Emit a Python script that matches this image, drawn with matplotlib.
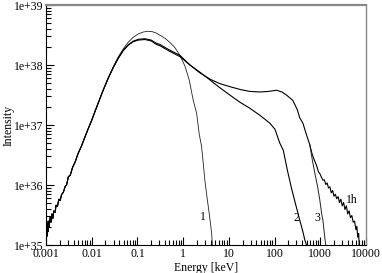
import numpy as np
import matplotlib
matplotlib.use("Agg")
import matplotlib.pyplot as plt
from matplotlib.ticker import FixedLocator, FixedFormatter, LogLocator, NullFormatter

plt.rcParams['font.family'] = ['Liberation Serif', 'DejaVu Serif']

# rising part shared by all spectra (keV, intensity)
rise_e = [0.00100, 0.00102, 0.00105, 0.00107, 0.00110, 0.00112, 0.00117, 0.00123,
          0.00129, 0.00135, 0.00141, 0.00148, 0.00158, 0.00166, 0.00178, 0.00191,
          0.00204, 0.00219, 0.00240, 0.00263, 0.00282, 0.00309, 0.00339, 0.0038,
          0.00437, 0.0050, 0.0060, 0.0071, 0.0083, 0.0100, 0.0120, 0.0141, 0.0178, 0.0229]
rise_i = [1.2e35, 2.0e35, 1.4e35, 2.3e35, 1.66e35, 2.5e35, 2.0e35, 2.9e35,
          2.4e35, 3.3e35, 2.75e35, 3.7e35, 3.5e35, 4.6e35, 4.4e35, 5.8e35,
          5.5e35, 6.9e35, 7.6e35, 9.5e35, 1.0e36, 1.38e36, 1.45e36, 1.95e36,
          2.45e36, 3.3e36, 4.5e36, 6.3e36, 8.5e36, 1.2e37, 1.74e37, 2.4e37, 3.8e37, 6.0e37]

# spectrum 1 (narrow, thin line)
e1 = [0.0302, 0.038, 0.049, 0.063, 0.081, 0.105, 0.135, 0.17, 0.21, 0.26, 0.32,
      0.41, 0.52, 0.66, 0.85, 1.10, 1.36, 1.66, 1.97, 2.25, 2.53, 2.99, 3.35, 3.71, 4.19, 4.36]
i1 = [9.6e37, 1.36e38, 1.86e38, 2.4e38, 2.9e38, 3.3e38, 3.55e38, 3.65e38, 3.6e38, 3.4e38, 3.1e38,
      2.75e38, 2.35e38, 1.95e38, 1.45e38, 9.5e37, 5.6e37, 2.6e37, 1.57e37, 7.0e36,
      4.4e36, 1.2e36, 6.0e35, 3.4e35, 1.6e35, 1.0e35]

# spectrum 2
e2 = [0.0302, 0.038, 0.049, 0.063, 0.081, 0.105, 0.145, 0.20, 0.26, 0.31, 0.50,
      0.85, 1.41, 2.32, 3.9, 6.3, 10.5, 17.4, 28.8, 47.9, 79, 102, 130, 155, 190,
      234, 288, 355, 417, 460, 500]
i2 = [9.3e37, 1.29e38, 1.74e38, 2.14e38, 2.45e38, 2.6e38, 2.66e38, 2.52e38, 2.2e38, 2.1e38, 1.7e38,
      1.38e38, 1.0e38, 7.6e37, 5.6e37, 4.2e37, 3.16e37, 2.4e37, 1.9e37, 1.45e37, 1.07e37,
      8.5e36, 5.0e36, 3.8e36, 1.78e36, 8.9e35, 4.8e35, 2.6e35, 1.66e35, 1.2e35, 1.0e35]

# spectrum 3 and 1h share the hump
e3 = [0.0302, 0.038, 0.049, 0.063, 0.081, 0.105, 0.145, 0.20, 0.26, 0.31, 0.50,
      0.85, 1.41, 2.32, 3.98, 6.3, 10.5, 17.8, 28.8, 47.9, 74, 110, 145, 182,
      251, 316, 355, 417, 501, 589]
i3 = [9.4e37, 1.3e38, 1.76e38, 2.17e38, 2.5e38, 2.68e38, 2.74e38, 2.6e38, 2.3e38, 2.2e38, 1.78e38,
      1.45e38, 1.0e38, 7.4e37, 5.75e37, 4.9e37, 4.36e37, 3.9e37, 3.63e37, 3.55e37, 3.63e37,
      3.8e37, 3.55e37, 3.16e37, 2.57e37, 1.78e37, 1.32e37, 1.07e37, 6.8e36, 4.7e36]

tail3_e = [676, 759, 871, 977, 1072, 1148, 1202, 1259, 1318]
tail3_i = [2.5e36, 1.58e36, 9.5e35, 5.6e35, 3.3e35, 2.5e35, 1.8e35, 1.3e35, 1.0e35]

tail1h_e = [661, 741, 832, 912, 977, 1072, 1148, 1230, 1318, 1413, 1514, 1622, 1738,
            1862, 1995, 2138, 2291, 2455, 2630, 2818, 3020, 3236, 3467, 3715, 3981,
            4266, 4571, 4898, 5248, 5623, 6026, 6310, 6607, 6918, 7079]
tail1h_i = [3.3e36, 2.6e36, 2.1e36, 1.66e36, 1.55e36, 1.32e36, 1.2e36, 1.22e36, 1.02e36,
            1.08e36, 8.9e35, 9.3e35, 7.4e35, 8.1e35, 6.5e35, 7.0e35, 5.9e35, 6.4e35,
            5.1e35, 5.8e35, 4.5e35, 5.1e35, 3.9e35, 4.5e35, 3.3e35, 3.7e35, 2.85e35,
            3.1e35, 2.4e35, 2.5e35, 1.8e35, 2.05e35, 1.35e35, 1.55e35, 1.0e35]

curve_labels = ['1', '2', '3', '1h']
label_e = [2.75, 300, 880, 5000]
label_i = [2.9e35, 2.85e35, 2.85e35, 5.6e35]

xticks = [0.001, 0.01, 0.1, 1, 10, 100, 1000, 10000]
xticklabels = ['0.001', '0.01', '0.1', '1', '10', '100', '1000', '10000']
yticks = [1e35, 1e36, 1e37, 1e38, 1e39]
yticklabels = ['1e+35', '1e+36', '1e+37', '1e+38', '1e+39']

fig = plt.figure(figsize=(3.82, 2.73), dpi=100)
ax = fig.add_axes([46 / 382, 28 / 273, 320 / 382, 240 / 273])

ax.plot(rise_e + e1, rise_i + i1, color='#222222', lw=0.6)
ax.plot(rise_e + e2, rise_i + i2, color='black', lw=0.8)
ax.plot(rise_e + e3 + tail1h_e, rise_i + i3 + tail1h_i, color='black', lw=0.8)
ax.plot(e3[-1:] + tail3_e, i3[-1:] + tail3_i, color='#222222', lw=0.7)

for t, x, y in zip(curve_labels, label_e, label_i):
    ax.text(x, y, t, fontsize=8.5, ha='center', va='center')

ax.set_xscale('log')
ax.set_yscale('log')
ax.set_xlim(0.001, 10000)
ax.set_ylim(1e35, 1e39)

ax.xaxis.set_major_locator(FixedLocator(xticks))
ax.xaxis.set_major_formatter(FixedFormatter(xticklabels))
ax.yaxis.set_major_locator(FixedLocator(yticks))
ax.yaxis.set_major_formatter(FixedFormatter(yticklabels))
ax.xaxis.set_minor_locator(LogLocator(base=10, subs=np.arange(2, 10), numticks=20))
ax.yaxis.set_minor_locator(LogLocator(base=10, subs=np.arange(2, 10), numticks=20))
ax.xaxis.set_minor_formatter(NullFormatter())
ax.yaxis.set_minor_formatter(NullFormatter())

ax.tick_params(which='both', direction='in', top=False, right=False, labelsize=8.5, width=0.8)
ax.tick_params(which='major', length=6, pad=2)
ax.tick_params(which='minor', length=3.5)

ax.spines['top'].set_color('#888888')
ax.spines['top'].set_linewidth(1.6)
ax.spines['right'].set_color('#888888')
ax.spines['right'].set_linewidth(1.0)
ax.spines['left'].set_linewidth(0.8)
ax.spines['bottom'].set_linewidth(0.8)

ax.set_xlabel('Energy [keV]', fontsize=8.5)
ax.set_ylabel('Intensity', fontsize=8.5)
ax.xaxis.set_label_coords(0.5, -0.072)
ax.yaxis.set_label_coords(-0.098, 0.5)

fig.savefig('out.png', dpi=100)
